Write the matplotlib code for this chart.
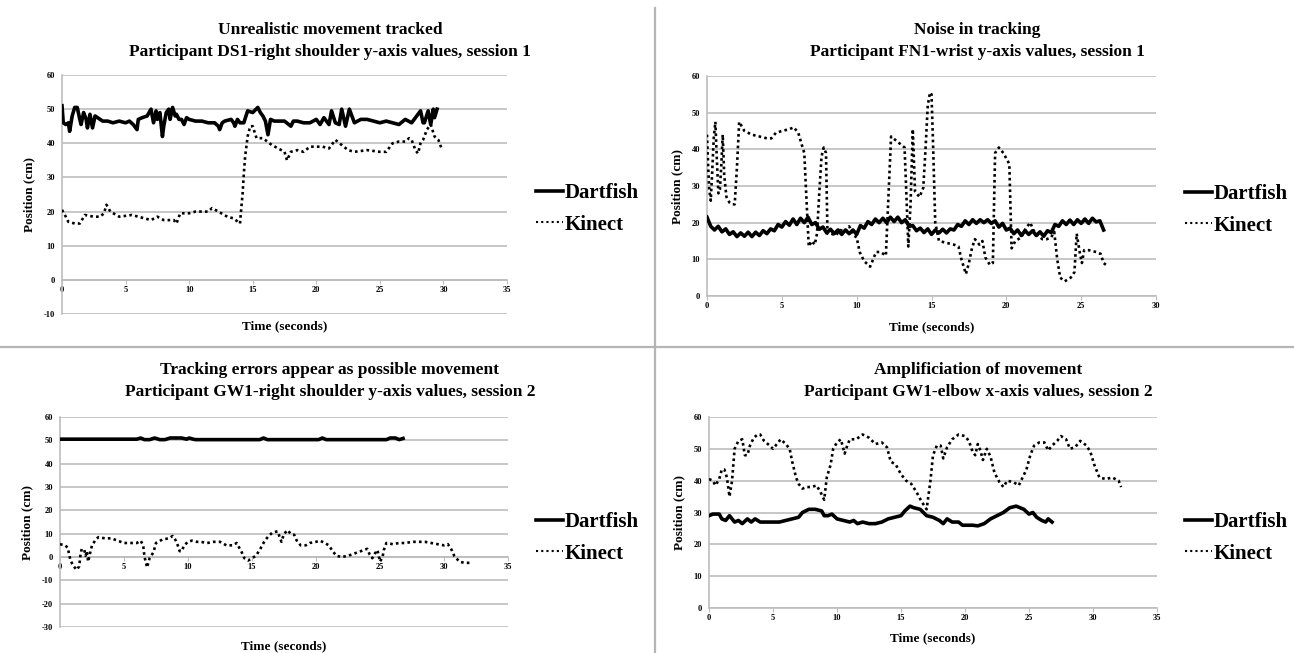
import numpy as np
import matplotlib; matplotlib.use("Agg"); import matplotlib.pyplot as plt
from matplotlib.lines import Line2D

plt.rcParams['font.family'] = ['Liberation Serif', 'DejaVu Serif']
plt.rcParams['font.weight'] = 'bold'
plt.rcParams['axes.unicode_minus'] = False

# ---------- data ----------
# panel 1: DS1 right shoulder y, session 1
p1_dart_t = [0.0,0.1,0.3,0.5,0.6,0.8,1.0,1.2,1.4,1.5,1.7,1.9,2.0,2.2,2.4,2.6,2.8,3.2,3.6,4.0,4.5,5.0,5.3,5.6,5.9,6.0,6.3,6.7,7.0,7.2,
             7.4,7.5,7.7,7.9,8.0,8.2,8.4,8.5,8.7,8.9,9.0,9.2,9.4,9.6,9.8,10.0,10.5,11.0,11.5,12.0,12.3,12.4,12.6,12.8,13.3,13.5,13.6,13.8,14.0,14.3,
             14.6,15.0,15.4,15.6,15.8,16.0,16.2,16.4,16.7,17.0,17.5,18.0,18.2,18.5,19.0,19.5,20.0,20.3,20.6,21.0,21.2,21.5,21.8,22.0,22.3,22.6,23.0,23.5,24.0,24.5,
             25.0,25.5,26.0,26.5,27.0,27.5,28.0,28.2,28.4,28.5,28.8,29.0,29.2,29.3,29.5]
p1_dart_v = [51,46,45.5,46,43.5,48,50.5,50.5,47,45.5,49,47,44.5,48.5,44.5,48,47.5,46.5,46.5,46,46.5,46,46.5,45.5,44,47,47.5,48,50,46,
             49.5,47,49,42,45,49,50,47,50.5,48,48.5,47,47,45.5,47.5,47,46.5,46.5,46,46,45,44,46,46.5,47,46,45,47,46,46,
             49.5,49,50.5,49,48,46.5,42.5,47,46.5,46.5,46.5,45,46.5,46.5,46,46,47,45.5,47.5,45.5,49.5,46,45.5,50,45,50,46,47,47,46.5,
             46,46.5,46,45.5,47,46,48.5,49.5,46,46,49.5,45.5,50,47.5,50]
p1_kin_t = [0.0,0.3,0.5,1.0,1.4,1.8,2.5,3.0,3.3,3.5,3.8,4.5,5.5,6.5,7.0,7.5,8.0,8.8,9.0,9.3,10.0,10.5,11.0,11.5,11.8,12.3,13.0,13.5,14.0,14.1,
            14.2,14.3,14.4,14.6,14.8,15.0,15.3,15.8,16.5,17.0,17.5,17.7,18.0,18.5,19.0,19.5,20.0,20.5,21.0,21.5,22.0,22.5,23.0,24.0,25.0,25.5,26.0,26.5,27.0,27.3,
            27.5,27.8,28.0,28.2,28.4,28.7,29.0,29.3,29.6,29.9]
p1_kin_v = [20.5,18.5,17,16.5,16.5,19,18.5,18.5,19.5,22,20,18.5,19,18,17.5,18.5,17.5,17.5,16.5,19.5,19.5,20,20,20,21,20,18.5,18,16.5,21,
            25,31,36,42,45,45,41.5,41.5,39.5,38.5,37.5,35,37.5,38,37.5,39,39,39,38.5,41,39.5,38,37.5,38,37.5,37.5,40,40.5,40.5,41.5,
            41,38,37,40,41,44,45.5,42,41,38]

# panel 2: FN1 wrist y, session 1
p2_dart_t = [0.0,0.25,0.5,0.75,1.0,1.25,1.5,1.75,2.0,2.25,2.5,2.75,3.0,3.25,3.5,3.75,4.0,4.25,4.5,4.75,5.0,5.25,5.5,5.75,6.0,6.25,6.5,6.75,7.0,7.25,
             7.5,7.75,8.0,8.25,8.5,8.75,9.0,9.25,9.5,9.75,10.0,10.25,10.5,10.75,11.0,11.25,11.5,11.75,12.0,12.25,12.5,12.75,13.0,13.25,13.5,13.75,14.0,14.25,14.5,14.75,
             15.0,15.25,15.5,15.75,16.0,16.25,16.5,16.75,17.0,17.25,17.5,17.75,18.0,18.25,18.5,18.75,19.0,19.25,19.5,19.75,20.0,20.25,20.5,20.75,21.0,21.25,21.5,21.75,22.0,22.25,
             22.5,22.75,23.0,23.25,23.5,23.75,24.0,24.25,24.5,24.75,25.0,25.25,25.5,25.75,26.0,26.25,26.5]
p2_dart_v = [21.5,19.0,18.0,19.0,17.5,18.3,16.8,17.5,16.2,17.2,16.3,17.4,16.2,17.4,16.5,17.8,17.0,18.3,17.8,19.5,18.8,20.3,19.3,21.0,19.5,21.2,20.0,21.5,19.5,20.0,
             18.2,18.8,17.2,18.2,17.0,18.0,16.8,18.0,17.0,18.0,16.8,19.2,18.5,20.3,19.5,21.0,20.0,21.2,20.0,21.5,20.3,21.5,20.0,20.8,19.0,19.2,17.8,18.5,17.3,18.3,
             16.8,18.0,17.2,18.2,17.2,18.3,18.0,19.5,19.0,20.5,19.5,20.8,19.8,20.8,20.0,20.8,19.8,20.5,18.8,19.8,18.0,18.5,17.0,18.0,16.5,17.8,16.8,17.8,16.5,17.5,
             16.3,17.8,17.3,19.5,19.0,20.5,19.5,20.7,19.5,20.8,19.8,21.0,19.8,21.2,20.2,20.5,18.0]
p2_kin_t = [0.0,0.07,0.15,0.25,0.35,0.45,0.56,0.66,0.76,0.86,0.96,1.05,1.15,1.3,1.5,1.7,1.85,2.0,2.15,2.5,3.0,3.5,4.0,4.3,4.6,5.0,5.5,5.8,6.1,6.35,
            6.5,6.65,6.8,7.0,7.2,7.35,7.5,7.65,7.8,7.95,8.05,8.3,8.6,8.9,9.2,9.5,9.8,10.0,10.2,10.5,10.9,11.1,11.3,11.6,11.95,12.1,12.3,12.6,12.9,13.2,
            13.3,13.45,13.6,13.75,13.9,14.2,14.45,14.6,14.75,14.9,15.0,15.1,15.25,15.5,16.0,16.5,16.8,17.0,17.3,17.5,17.7,17.9,18.2,18.4,18.6,18.9,19.1,19.25,19.5,19.8,
            20.0,20.2,20.35,20.6,21.0,21.3,21.6,21.8,22.0,22.4,22.7,23.0,23.2,23.4,23.6,23.9,24.3,24.55,24.7,24.9,25.05,25.2,25.5,26.0,26.3,26.5,26.8]
p2_kin_v = [44,36,29,26,34,43,47.5,37,28,29,36,44,33,27,25.5,25,25,35,47.5,45,44,43.5,43,43,44.5,45,45.5,46,44.5,41,
            39,26,13.5,15,14,17,28,38,40.5,39,17,17,16.5,18,17.5,19,16.5,16,12,9.5,8,10,12,12,11,25,43.5,42.5,41.5,40.5,
            30,13.5,25,45.5,28.5,27,29.5,40,52,55.5,55,42,20,15,14.5,14,13.5,10,6,9,13,15.5,14,15,10.5,8.5,9,39,40.5,39,
            37.5,36,13,15,16,18.5,20,18,17,15.5,15.5,16,17.5,10,5,4,5,6.5,17,12,9,12.5,12.5,12,11.5,9,8]

# panel 3: GW1 right shoulder y, session 2
p3_dart_t = [0.0,6.0,6.3,6.6,7.0,7.4,7.8,8.2,8.6,9.0,9.5,9.9,10.1,10.4,10.6,15.6,15.9,16.2,20.2,20.5,20.8,25.5,25.8,26.2,26.5,26.8]
p3_dart_v = [50.5,50.5,51,50.3,50.3,51,50.3,50.3,51,51,51,50.5,51,50.5,50.3,50.3,51,50.3,50.3,51,50.3,50.3,51,51,50.3,50.8]
p3_kin_t = [0.0,0.4,0.6,0.8,1.0,1.3,1.5,1.6,1.7,1.9,2.0,2.1,2.2,2.3,2.5,2.8,3.0,3.5,4.0,4.5,5.0,5.5,6.0,6.3,6.5,6.6,6.7,6.8,7.0,7.3,
            7.5,8.0,8.5,8.8,9.0,9.2,9.35,9.5,9.7,10.0,10.3,10.7,11.0,11.5,12.0,12.5,13.0,13.5,13.8,14.2,14.4,14.7,15.0,15.3,15.6,16.0,16.3,16.6,17.0,17.2,
            17.3,17.5,17.8,18.0,18.3,18.5,18.8,19.2,19.5,20.0,20.3,20.7,21.0,21.3,21.6,22.0,22.5,23.0,23.5,24.0,24.2,24.4,24.6,24.8,25.0,25.2,25.3,25.5,26.0,26.5,
            27.0,27.5,28.0,28.5,29.0,29.5,30.0,30.3,30.6,30.8,31.2,31.6,32.0]
p3_kin_v = [5.5,5,4,-1,-3.5,-5.5,-4,1,3.5,3,0.5,2.5,-2,0.5,5,7.5,8.5,8,8,7,6,6,6,7,5,0,-2,-4.5,-0.5,2,
            6,7.5,8,9,7.5,5,2.5,2.5,5,6.5,7,6.5,6.5,6,6.5,6.5,5,5,6,2,-0.5,-1.5,-0.5,0.5,3,7,9,10.5,11,8,
            6.5,10,11.5,10,9.5,7,5,5,6,6.5,7,6,5,2.5,0.5,0,0.5,1.5,2.5,3.5,1,-0.5,1.5,3,-2,0,3,6,5.5,6,
            6,6.5,6.5,6.5,6,5.5,5,5.5,3,0.5,-2,-2.5,-2.5]

# panel 4: GW1 elbow x, session 2
p4_dart_t = [0.0,0.3,0.8,1.0,1.3,1.6,2.0,2.3,2.6,3.0,3.3,3.6,4.0,4.5,5.0,5.5,6.0,6.5,7.0,7.3,7.8,8.3,8.8,9.0,9.3,9.6,10.0,10.5,11.0,11.3,
             11.6,12.0,12.5,13.0,13.5,14.0,14.5,15.0,15.3,15.7,16.0,16.5,17.0,17.5,18.0,18.3,18.6,19.0,19.5,19.8,20.2,20.6,21.0,21.5,22.0,22.5,23.0,23.5,24.0,24.3,
             24.6,25.0,25.3,25.6,26.0,26.3,26.5,26.8]
p4_dart_v = [29,29.5,29.5,28,27.5,29,27,27.5,26.5,28,27,28,27,27,27,27,27.5,28,28.5,30,31,31,30.5,29,29,29.5,28,27.5,27,27.5,
             26.5,27,26.5,26.5,27,28,28.5,29,30.5,32,31.5,31,29,28.5,27.5,26.5,28,27,27,26,26,26,25.8,26.5,28,29,30,31.5,32,31.5,
             31,29.5,30,28.5,27.5,27,28,27]
p4_kin_t = [0.0,0.3,0.5,0.8,1.0,1.2,1.4,1.5,1.6,1.8,1.9,2.0,2.3,2.6,2.8,3.0,3.2,3.5,3.8,4.0,4.3,4.6,5.0,5.3,5.6,6.0,6.3,6.5,6.8,7.0,
            7.3,7.6,8.0,8.4,8.7,9.0,9.2,9.5,9.7,10.0,10.3,10.6,10.8,11.0,11.5,12.0,12.5,13.0,13.5,13.9,14.2,14.6,15.0,15.4,15.8,16.2,16.6,17.0,17.3,17.5,
            17.8,18.1,18.3,18.6,19.0,19.5,20.0,20.3,20.6,20.8,21.0,21.2,21.4,21.7,22.0,22.3,22.7,23.0,23.3,23.8,24.2,24.5,24.8,25.1,25.4,25.8,26.2,26.5,26.8,27.2,
            27.5,27.9,28.2,28.6,29.0,29.5,29.8,30.1,30.5,31.0,31.5,32.0,32.2]
p4_kin_v = [40.5,40,38.5,40.5,43.5,43.5,41,38,35,40,45,50,52.5,53,48,48,51,53.5,54.5,54.5,52.5,51.5,50,51.5,53,51.5,50,46,41,39,
            37.5,38,38,38.5,36.5,34,41,45,50,52,53,48.5,51,53,53,54.5,53.5,51.5,52,50.5,46,45,42,40,39,36.5,33.5,31,40,48,
            51,51,47,50.5,53,54.5,54,52.5,49,48,51.5,49.5,46.5,50,47.5,42.5,39.5,38,40,39.5,38.5,41,43.5,48,51,52,52,49.5,51,52.5,
            54,53,50,50.5,52.5,51,49,45,41,40.5,41,40,38]

titles = [("Unrealistic movement tracked", "Participant DS1-right shoulder y-axis values, session 1"),
          ("Noise in tracking", "Participant FN1-wrist y-axis values, session 1"),
          ("Tracking errors appear as possible movement", "Participant GW1-right shoulder y-axis values, session 2"),
          ("Amplificiation of movement", "Participant GW1-elbow x-axis values, session 2")]
series_names = ["Dartfish", "Kinect"]

# ---------- layout ----------
W, H = 1294, 653
fig = plt.figure(figsize=(W/100, H/100), dpi=100)

def box(l, r, t, b): return [l/W, 1-b/H, (r-l)/W, (b-t)/H]

panels = [
    dict(pos=box(62, 507, 75, 314), xlim=35, ylim=(-10, 60), data=(p1_dart_t, p1_dart_v, p1_kin_t, p1_kin_v),
         tx=330, ty=(30, 52), xl_y=326, leg=(521, 209)),
    dict(pos=box(707, 1156, 76, 296), xlim=30, ylim=(0, 60), data=(p2_dart_t, p2_dart_v, p2_kin_t, p2_kin_v),
         tx=977, ty=(30, 52), xl_y=327, leg=(1170, 210)),
    dict(pos=box(60, 508, 417, 627), xlim=35, ylim=(-30, 60), data=(p3_dart_t, p3_dart_v, p3_kin_t, p3_kin_v),
         tx=330, ty=(370, 392), xl_y=646, leg=(521, 538)),
    dict(pos=box(709, 1157, 417, 608), xlim=35, ylim=(0, 60), data=(p4_dart_t, p4_dart_v, p4_kin_t, p4_kin_v),
         tx=978, ty=(370, 392), xl_y=638, leg=(1170, 538)),
]

grid_c = '#bdbdbd'
for i, p in enumerate(panels):
    ax = fig.add_axes(p['pos'])
    dt, dv, kt, kv = p['data']
    ax.plot(dt, dv, color='black', lw=2.6, solid_joinstyle='round', zorder=3)
    ax.plot(kt, kv, color='black', lw=1.9, linestyle=(0, (1, 1.2)), dash_capstyle='butt', zorder=3)
    ax.set_xlim(0, p['xlim']); ax.set_ylim(*p['ylim'])
    ax.set_xticks(range(0, p['xlim']+1, 5))
    ax.set_yticks(range(p['ylim'][0], p['ylim'][1]+1, 10))
    ax.yaxis.grid(True, color=grid_c, lw=1.2); ax.set_axisbelow(True)
    for s in ['top', 'right']: ax.spines[s].set_visible(False)
    ax.spines['left'].set_color(grid_c); ax.spines['left'].set_linewidth(1.2)
    ax.spines['bottom'].set_color(grid_c); ax.spines['bottom'].set_linewidth(1.2)
    if p['ylim'][0] < 0: ax.spines['bottom'].set_position(('data', 0))
    ax.tick_params(axis='x', length=3, width=0.8, color=grid_c, labelsize=6, pad=1.5)
    ax.tick_params(axis='y', length=0, labelsize=6, pad=5)
    for lab in ax.get_xticklabels() + ax.get_yticklabels(): lab.set_fontweight('bold')
    ax.set_ylabel('Position (cm)', fontsize=9.5, fontweight='bold', labelpad=6)
    fig.text(((p['pos'][0]+p['pos'][2]/2)), 1-p['xl_y']/H, 'Time (seconds)', ha='center', va='center',
             fontsize=9.5, fontweight='bold')
    t1, t2 = titles[i]
    fig.text(p['tx']/W, 1-p['ty'][0]/H, t1, ha='center', va='center', fontsize=12.5, fontweight='bold')
    fig.text(p['tx']/W, 1-p['ty'][1]/H, t2, ha='center', va='center', fontsize=12.5, fontweight='bold')
    h = [Line2D([], [], color='black', lw=2.6),
         Line2D([], [], color='black', lw=1.5, linestyle=(0, (1, 1.5)))]
    fig.legend(h, series_names, loc='center left', bbox_to_anchor=(p['leg'][0]/W, 1-p['leg'][1]/H),
               frameon=False, handlelength=1.3, handletextpad=0.1, labelspacing=0.55,
               borderpad=0.2, prop=dict(family='Liberation Serif', weight='bold', size=15))

# divider lines between the four charts
fig.add_artist(Line2D([655/W, 655/W], [0, 1-8/H], color='#b5b5b5', lw=1.6))
fig.add_artist(Line2D([0, 1], [1-347/H, 1-347/H], color='#b5b5b5', lw=1.6))

fig.savefig('out.png', dpi=100)
